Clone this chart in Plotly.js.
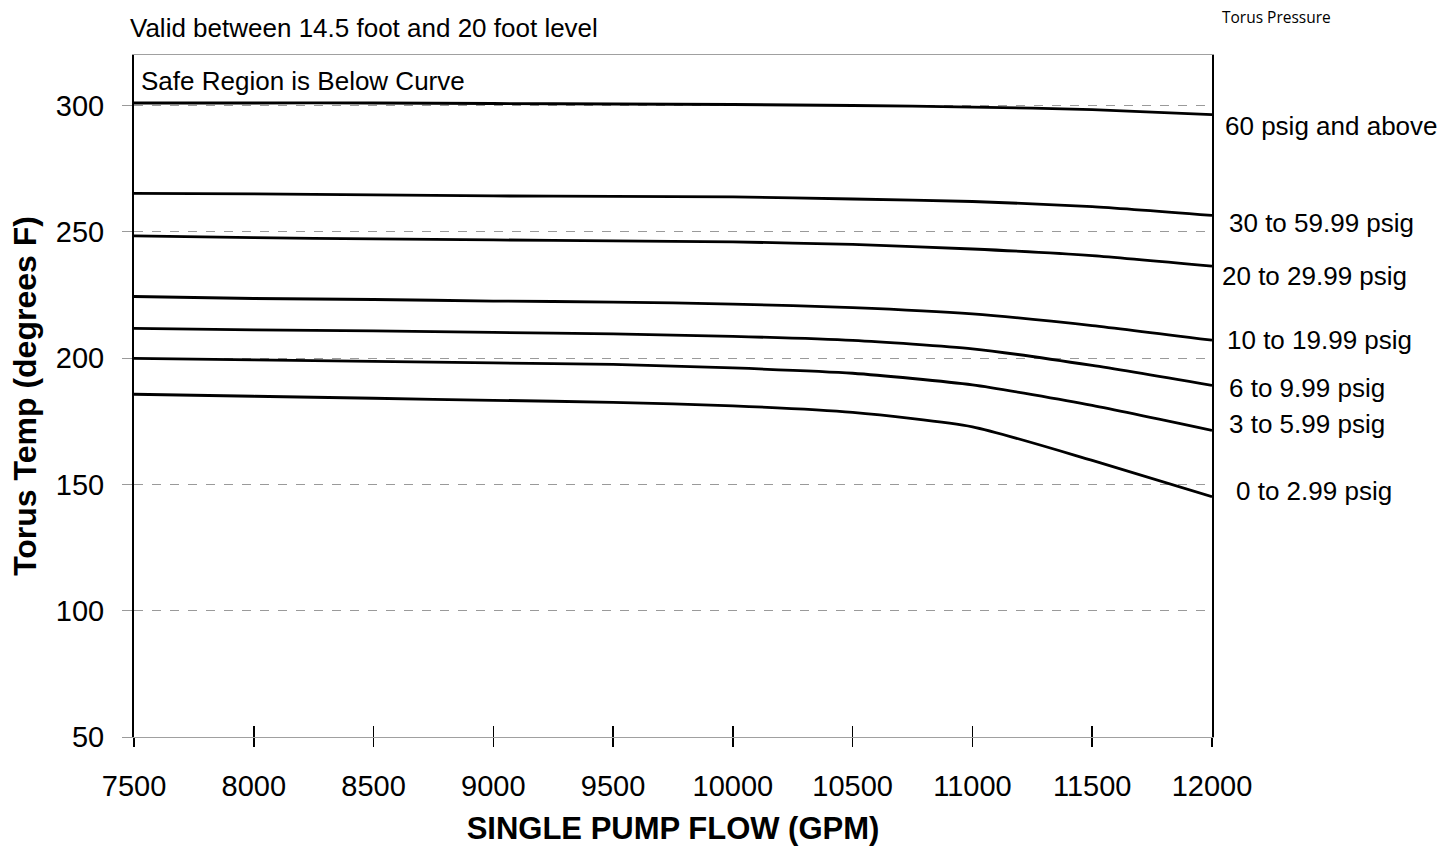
<!DOCTYPE html>
<html>
<head>
<meta charset="utf-8">
<script src="https://cdn.plot.ly/plotly-3.0.1.min.js"></script>
<style>
  html, body { margin: 0; padding: 0; background: #fff; }
  #chart { width: 1449px; height: 856px; }
</style>
</head>
<body>
<div id="chart"></div>
<script>
// ---- Data ----
const flow = [7500, 8000, 8500, 9000, 9500, 10000, 10500, 11000, 11500, 12000];
const p60 = [301.0, 301.0, 301.0, 300.8, 300.6, 300.4, 300.0, 299.4, 298.4, 296.4];
const p30 = [265.2, 265.0, 264.6, 264.2, 264.0, 263.8, 263.0, 262.0, 260.0, 256.5];
const p20 = [248.4, 247.7, 247.2, 246.8, 246.4, 246.0, 245.0, 243.2, 240.6, 236.4];
const p10 = [224.4, 223.6, 223.2, 222.6, 222.2, 221.4, 220.0, 217.5, 212.9, 207.1];
const p6  = [211.8, 211.2, 210.8, 210.2, 209.6, 208.6, 207.0, 203.7, 197.1, 189.2];
const p3  = [199.9, 199.3, 198.7, 198.1, 197.5, 196.1, 194.0, 189.4, 181.3, 171.4];
const p0  = [185.7, 184.9, 184.1, 183.3, 182.5, 181.1, 178.5, 172.8, 159.5, 145.1];

const seriesValues = [p60, p30, p20, p10, p6, p3, p0];
const seriesNames = ['60 psig and above', '30 to 59.99 psig', '20 to 29.99 psig',
                     '10 to 19.99 psig', '6 to 9.99 psig', '3 to 5.99 psig', '0 to 2.99 psig'];
const xTicks = [7500, 8000, 8500, 9000, 9500, 10000, 10500, 11000, 11500, 12000];
const yTicks = [50, 100, 150, 200, 250, 300];

const titleText = 'Valid between 14.5 foot and 20 foot level';
const noteText = 'Safe Region is Below Curve';
const legendTitle = 'Torus Pressure';
const xTitle = 'SINGLE PUMP FLOW (GPM)';
const yTitle = 'Torus Temp (degrees F)';

// ---- Styling / layout ----
const FONT = '"Liberation Sans", Arial, Helvetica, sans-serif';

const traces = seriesValues.map((vals, i) => ({
  type: 'scatter', mode: 'lines', x: flow, y: vals, name: seriesNames[i],
  line: { color: '#000', width: 2.8, shape: 'spline', smoothing: 0.6 },
  showlegend: false, hoverinfo: 'skip'
}));
// invisible companion trace so the second (tick-only) x axis is drawn
traces.push({
  type: 'scatter', mode: 'lines', x: flow, y: p60, xaxis: 'x2', yaxis: 'y',
  line: { color: 'rgba(0,0,0,0)', width: 0 }, showlegend: false, hoverinfo: 'skip'
});

// label positions (paper coords)
const labelPos = [
  [1.0105, 0.8960], [1.0135, 0.7539], [1.0075, 0.6763], [1.0125, 0.5823],
  [1.0140, 0.5122], [1.0140, 0.4594], [1.0205, 0.3610]
];

const annotations = seriesNames.map((t, i) => ({
  xref: 'paper', yref: 'paper', x: labelPos[i][0], y: labelPos[i][1],
  xanchor: 'left', yanchor: 'middle', showarrow: false, text: t,
  font: { family: FONT, size: 26, color: '#000' }
}));
annotations.push({
  xref: 'paper', yref: 'paper', x: 1.0075, y: 1.0550, xanchor: 'left', yanchor: 'middle',
  showarrow: false, text: legendTitle, font: { family: '"Open Sans", "Noto Sans", sans-serif', size: 15.5, color: '#000' }
});
annotations.push({
  xref: 'paper', yref: 'paper', x: -0.0060, y: 1.0397, xanchor: 'left', yanchor: 'middle',
  showarrow: false, text: titleText, font: { family: FONT, size: 26, color: '#000' }
});
annotations.push({
  xref: 'paper', yref: 'paper', x: 0.0045, y: 0.9617, xanchor: 'left', yanchor: 'middle',
  showarrow: false, text: noteText, font: { family: FONT, size: 26, color: '#000' }
});

const layout = {
  width: 1449, height: 856,
  margin: { l: 134, r: 237, t: 55, b: 119, pad: 0 },
  paper_bgcolor: '#fff', plot_bgcolor: '#fff',
  font: { family: FONT, color: '#000' },
  xaxis: {
    range: [7500, 12000], tickvals: xTicks, ticktext: xTicks.map(String),
    showgrid: false, zeroline: false,
    showline: true, linecolor: '#a0a0a0', linewidth: 1, mirror: true,
    ticks: 'outside', ticklen: 9, tickcolor: '#000', tickwidth: 1.5,
    ticklabelstandoff: 14,
    tickfont: { family: FONT, size: 29, color: '#000' },
    title: { text: xTitle, font: { family: FONT, size: 31, color: '#000', weight: 'bold' }, standoff: 16 },
    automargin: false
  },
  xaxis2: {
    overlaying: 'x', matches: 'x', anchor: 'y', side: 'bottom',
    range: [7500, 12000], tickvals: xTicks, showticklabels: false,
    showgrid: false, zeroline: false, showline: false,
    ticks: 'inside', ticklen: 11, tickcolor: '#000', tickwidth: 1.5
  },
  yaxis: {
    range: [50, 320], tickvals: yTicks, ticktext: yTicks.map(String),
    showgrid: true, gridcolor: '#9a9a9a', gridwidth: 1, griddash: 'dash',
    zeroline: false,
    showline: true, linecolor: '#000', linewidth: 2, mirror: true,
    ticks: 'outside', ticklen: 10, tickcolor: '#9a9a9a', tickwidth: 1,
    ticklabelstandoff: 12,
    tickfont: { family: FONT, size: 29, color: '#000' },
    title: { text: yTitle, font: { family: FONT, size: 32, color: '#000', weight: 'bold' }, standoff: 10 },
    automargin: false
  },
  annotations: annotations
};

Plotly.newPlot('chart', traces, layout, { displayModeBar: false, staticPlot: true });
</script>
</body>
</html>
